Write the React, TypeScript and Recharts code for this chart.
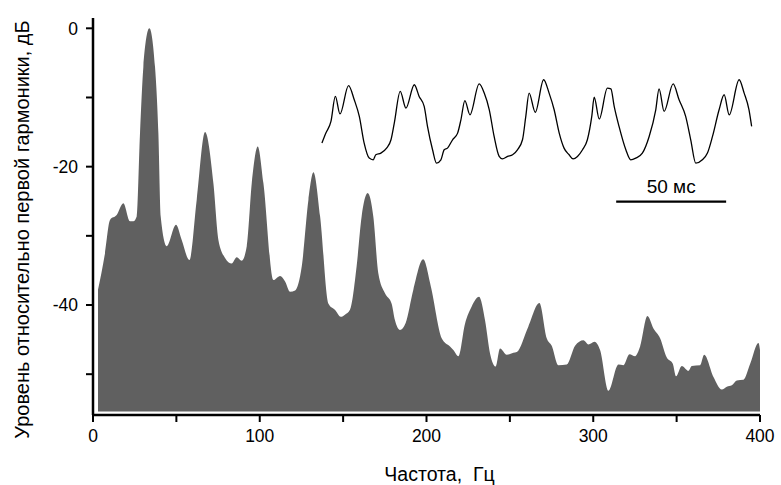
import { ComposedChart, Area, Line, XAxis, YAxis, ReferenceLine } from "recharts";

// spectrum
const freqHz = [
  3, 7.2, 10.2, 14.2, 18.2, 22.2, 24.2, 26.2, 28.2, 30.2, 33.8, 37.2, 39.2, 40.6, 44.2,
  49.8, 53.2, 57.8, 62.2, 67.2, 72.2, 75.2, 79.2, 83.2, 86.2, 89.2, 92.2, 95.2, 98.8,
  102.2, 108.2, 112.2, 115.2, 118.2, 121.2, 125.2, 129.2, 132.2, 136.2, 141.2, 145.1,
  148.6, 151.1, 154.1, 158.1, 161.1, 164.7, 168.1, 171.1, 175.1, 179.1, 181.1, 184.1,
  187.5, 192.1, 198, 202.5, 209.1, 214.1, 216.1, 219.1, 223.1, 227.1, 231.5, 235.1,
  238.1, 241.5, 244.1, 248.1, 252.1, 254.1, 261.1, 267.7, 272.1, 275.1, 279.1, 284.1,
  289.1, 294.1, 297.1, 300.7, 304.1, 309.1, 315.1, 318.1, 321.7, 325.1, 328.1, 332.5,
  336.1, 340.1, 344.1, 347.7, 349.6, 353.1, 357.1, 359.1, 364.1, 366.5, 372.1, 377.1,
  380.1, 383.1, 386.1, 390.1, 394.1, 399.1, 400,
];
const levelDb = [
  -37.8, -32.5, -27.7, -27.0, -25.3, -27.9, -27.9, -27.2, -15.1, -5.6, 0, -5.6, -15.1, -27.2, -31.5,
  -28.4, -30.6, -33.5, -24.8, -15.0, -22.4, -30.6, -33.2, -34.0, -33.1, -33.6, -31.5, -22.4, -17.1,
  -22.4, -36.4, -35.8, -36.6, -38.1, -37.9, -34.4, -24.8, -20.8, -27.2, -39.8, -40.7,
  -41.7, -41.4, -40.7, -34.4, -27.2, -23.8, -27.2, -35.4, -38.3, -39.8, -42.2, -43.6,
  -42.6, -37.8, -33.4, -37.2, -44.8, -46.0, -46.5, -47.4, -42.7, -40.2, -38.8, -42.2,
  -47.0, -48.9, -46.3, -47.2, -46.9, -46.8, -43.1, -39.7, -44.8, -45.9, -48.7, -48.6,
  -45.9, -45.1, -45.7, -45.3, -46.5, -52.4, -48.6, -48.7, -47.1, -47.4, -46.0, -41.6,
  -43.4, -44.8, -47.6, -48.5, -50.3, -48.8, -49.5, -48.8, -48.7, -47.2, -50.4, -52.2,
  -51.8, -51.6, -50.9, -50.8, -48.5, -45.5, -46.5,
];

// inset waveform (time in ms, relative amplitude)
const waveMs = [
  0.3, 2.1, 4.4, 6.4, 8.5, 12.4, 15.0, 17.3, 19.5, 21.8, 23.6, 24.8, 27.1, 29.7, 31.7,
  33.2, 35.9, 38.5, 42.3, 44.5, 46.8, 48.3, 50.6, 52.4, 54.4, 55.9, 57.4, 59.7, 62.0,
  63.5, 65.3, 67.6, 71.8, 74.1, 76.4, 78.6, 80.9, 82.4, 84.7, 87.0, 89.2, 91.5, 93.0,
  94.5, 97.3, 101.1, 103.6, 105.9, 108.2, 110.4, 112.7, 114.5, 116.5, 118.8, 121.0,
  123.0, 124.1, 126.4, 130.1, 131.7, 133.2, 135.4, 138.5, 140.7, 143.0, 146.0, 149.1,
  152.1, 153.6, 155.9, 160.0, 162.7, 165.7, 168.0, 170.3, 173.3, 175.6, 177.9, 180.9,
  183.2, 185.5, 190.0, 192.3, 194.5, 195.7,
];
const waveAmp = [
  0.24, 0.36, 0.5, 0.8, 0.59, 0.93, 0.76, 0.56, 0.24, 0.06, 0.04, 0.1, 0.12, 0.18, 0.28,
  0.48, 0.86, 0.66, 0.94, 0.8, 0.68, 0.44, 0.16, 0.0, 0.04, 0.16, 0.18, 0.28, 0.36,
  0.52, 0.75, 0.58, 0.95, 0.84, 0.64, 0.32, 0.08, 0.05, 0.08, 0.1, 0.16, 0.28, 0.56,
  0.84, 0.61, 1.0, 0.84, 0.64, 0.36, 0.18, 0.1, 0.05, 0.08, 0.16, 0.28,
  0.56, 0.79, 0.53, 0.9, 0.89, 0.68, 0.44, 0.16, 0.04, 0.06, 0.12, 0.32,
  0.64, 0.89, 0.62, 0.95, 0.76, 0.56, 0.28, 0.0, 0.04, 0.12, 0.32, 0.64,
  0.82, 0.58, 1.0, 0.84, 0.64, 0.44,
];

const xTicks = [0, 50, 100, 150, 200, 250, 300, 350, 400];
const xTickLabels = ["0", "", "100", "", "200", "", "300", "", "400"];
const yTicks = [0, -10, -20, -30, -40, -50];
const yTickLabels = ["0", "", "-20", "", "-40", ""];

// 50 ms scale bar
const scaleBarMs = [134.1, 184.1];
const scaleBarAmp = -0.461;

const spectrum = freqHz.map((f, i) => ({ f, db: levelDb[i] }));
const wave = waveMs.map((t, i) => ({ t, a: waveAmp[i] }));

const font = "'Liberation Sans', Arial, sans-serif";

export default function App() {
  return (
    <div style={{ position: "absolute", left: 0, top: 0, fontFamily: font }}>
      <ComposedChart
        width={781}
        height={485}
        margin={{ top: 18, right: 21, bottom: 40, left: 0 }}
      >
        <XAxis
          xAxisId="f"
          dataKey="f"
          type="number"
          domain={[0, 400]}
          allowDataOverflow
          ticks={xTicks}
          tickFormatter={(v, i) => xTickLabels[i]}
          axisLine={{ stroke: "#000", strokeWidth: 2.5 }}
          tickLine={{ stroke: "#000", strokeWidth: 2 }}
          tickSize={7}
          tickMargin={8}
          tick={{ fill: "#000", fontSize: 17.5, fontFamily: font }}
          height={30}
          label={{
            content: ({ viewBox }: any) => (
              <text
                x={viewBox.x + viewBox.width / 2 + 13}
                y={viewBox.y + viewBox.height + 36}
                textAnchor="middle"
                fill="#000"
                fontSize={19.5}
                fontFamily={font}
                style={{ whiteSpace: "pre" }}
              >
                {"Частота,  Гц"}
              </text>
            ),
          }}
        />
        <XAxis
          xAxisId="t"
          dataKey="t"
          type="number"
          domain={[-103.8, 199.5]}
          allowDataOverflow
          hide
          height={0}
        />
        <YAxis
          yAxisId="db"
          type="number"
          domain={[-55.9, 1.49]}
          allowDataOverflow
          ticks={yTicks}
          tickFormatter={(v, i) => yTickLabels[i]}
          axisLine={{ stroke: "#000", strokeWidth: 2.5 }}
          tickLine={{ stroke: "#000", strokeWidth: 2 }}
          tickSize={7}
          tickMargin={8}
          tick={{ fill: "#000", fontSize: 17.5, fontFamily: font }}
          width={93}
          label={{
            content: ({ viewBox }: any) => {
              const x = viewBox.x + 29;
              const y = viewBox.y + viewBox.height / 2 + 13;
              return (
                <text
                  x={x}
                  y={y}
                  transform={`rotate(-90, ${x}, ${y})`}
                  textAnchor="middle"
                  fill="#000"
                  fontSize={20}
                  fontFamily={font}
                >
                  Уровень относительно первой гармоники, дБ
                </text>
              );
            },
          }}
        />
        <YAxis
          yAxisId="a"
          type="number"
          domain={[-3.022, 1.741]}
          allowDataOverflow
          hide
          width={0}
        />
        <Area
          xAxisId="f"
          yAxisId="db"
          data={spectrum}
          dataKey="db"
          type="monotone"
          baseValue={-55.4}
          fill="#606060"
          fillOpacity={1}
          stroke="none"
          isAnimationActive={false}
        />
        <Line
          xAxisId="t"
          yAxisId="a"
          data={wave}
          dataKey="a"
          type="monotone"
          stroke="#000"
          strokeWidth={1.3}
          dot={false}
          isAnimationActive={false}
        />
        <ReferenceLine
          xAxisId="t"
          yAxisId="a"
          segment={[
            { x: scaleBarMs[0], y: scaleBarAmp },
            { x: scaleBarMs[1], y: scaleBarAmp },
          ]}
          stroke="#000"
          strokeWidth={2.2}
          ifOverflow="visible"
          label={{
            value: "50 мс",
            position: "top",
            offset: 9,
            fill: "#000",
            fontSize: 19,
            fontFamily: font,
          }}
        />
      </ComposedChart>
    </div>
  );
}
